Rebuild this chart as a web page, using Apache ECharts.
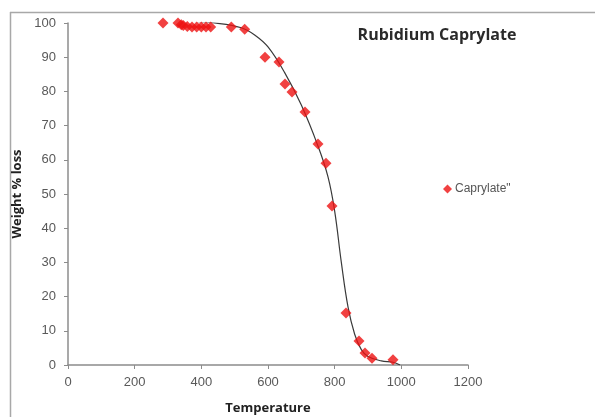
<!DOCTYPE html>
<html>
<head>
<meta charset="utf-8">
<script src="https://cdn.jsdelivr.net/npm/echarts@6/dist/echarts.min.js"></script>
<style>html,body{margin:0;padding:0;background:#fff}#c{width:595px;height:417px}</style>
</head>
<body>
<div id="c"></div>
<script>
// Measured points (Temperature, Weight % loss)
var tempPoints   = [285, 330, 340, 346, 358, 372, 386, 400, 414, 428, 490, 530, 591, 633, 651, 672, 711, 750, 774, 792, 834, 873, 891, 912, 975];
var weightPoints = [100, 100, 99.5, 99.3, 99, 98.8, 98.8, 98.8, 98.8, 98.8, 98.8, 98.2, 90, 88.6, 82.2, 79.8, 74, 64.6, 59, 46.5, 15.2, 7, 3.5, 2, 1.5];
// Trend line
var trendTemp   = [255, 350, 450, 520, 560, 600, 650, 700, 750, 780, 800, 820, 840, 860, 880, 900, 940, 975, 996];
var trendWeight = [100.9, 100.6, 99.9, 98.6, 96.5, 93, 85.5, 76, 64, 55, 45, 30, 17, 9, 4.5, 2.5, 1.2, 0.8, 0];
var xTicks = [0, 200, 400, 600, 800, 1000, 1200];
var yTicks = [0, 10, 20, 30, 40, 50, 60, 70, 80, 90, 100];
var seriesName = 'Caprylate"';
var titleText = 'Rubidium Caprylate';

var scatterData = tempPoints.map(function(t, i){ return [t, weightPoints[i]]; });
var trendData = trendTemp.map(function(t, i){ return [t, trendWeight[i]]; });

var chart = echarts.init(document.getElementById('c'), null, {renderer: 'canvas'});
var axisColor = '#8c8c8c';
var labelColor = '#595959';
chart.setOption({
  animation: false,
  backgroundColor: '#fff',
  title: {
    text: titleText,
    left: 432, top: 22, textAlign: 'center',
    textStyle: {fontFamily: 'Open Sans', fontWeight: 'bold', fontSize: 16, color: '#2a2a2a'}
  },
  legend: {
    data: [{name: seriesName, icon: 'diamond'}],
    left: 438, top: 178,
    itemWidth: 9, itemHeight: 9, itemGap: 2,
    textStyle: {fontFamily: 'Liberation Sans', fontSize: 12, color: '#555', padding: [0,0,0,-2]}
  },
  grid: {left: 68, right: 127, top: 23, bottom: 52, outerBoundsMode: 'none', containLabel: false},
  xAxis: {
    type: 'value', min: 0, max: 1200, interval: 200,
    name: 'Temperature', nameLocation: 'middle', nameGap: 37,
    nameTextStyle: {fontFamily: 'Open Sans', fontWeight: 'bold', fontSize: 13, color: '#222'},
    axisLine: {show: true, lineStyle: {color: axisColor, width: 1.5}},
    axisTick: {show: true, length: 4, lineStyle: {color: axisColor}},
    splitLine: {show: false},
    axisLabel: {fontFamily: 'Liberation Sans', fontSize: 13, color: labelColor, margin: 11,
      formatter: function(v){ return xTicks.indexOf(v) >= 0 ? String(v) : ''; }}
  },
  yAxis: {
    type: 'value', min: 0, max: 100, interval: 10,
    name: 'Weight % loss', nameLocation: 'middle', nameGap: 38,
    nameTextStyle: {fontFamily: 'Open Sans', fontWeight: 'bold', fontSize: 13, color: '#222'},
    axisLine: {show: true, lineStyle: {color: axisColor, width: 1.5}},
    axisTick: {show: true, length: 4, lineStyle: {color: axisColor}},
    splitLine: {show: false},
    axisLabel: {fontFamily: 'Liberation Sans', fontSize: 13, color: labelColor, margin: 12,
      formatter: function(v){ return yTicks.indexOf(v) >= 0 ? String(v) : ''; }}
  },
  graphic: [
    {type: 'line', shape: {x1: 10, y1: 12.5, x2: 595, y2: 12.5}, style: {stroke: '#a8a8a8', lineWidth: 1.5}, silent: true},
    {type: 'line', shape: {x1: 10.5, y1: 12, x2: 10.5, y2: 417}, style: {stroke: '#a8a8a8', lineWidth: 1.5}, silent: true}
  ],
  series: [
    {
      name: 'trend', type: 'line', data: trendData, smooth: 0.4, showSymbol: false,
      lineStyle: {color: '#3a3a3a', width: 1.2}, z: 2, silent: true
    },
    {
      name: seriesName, type: 'scatter', data: scatterData, symbol: 'diamond', symbolSize: 11,
      itemStyle: {color: '#ee1111'}, z: 3
    }
  ]
});
</script>
</body>
</html>
